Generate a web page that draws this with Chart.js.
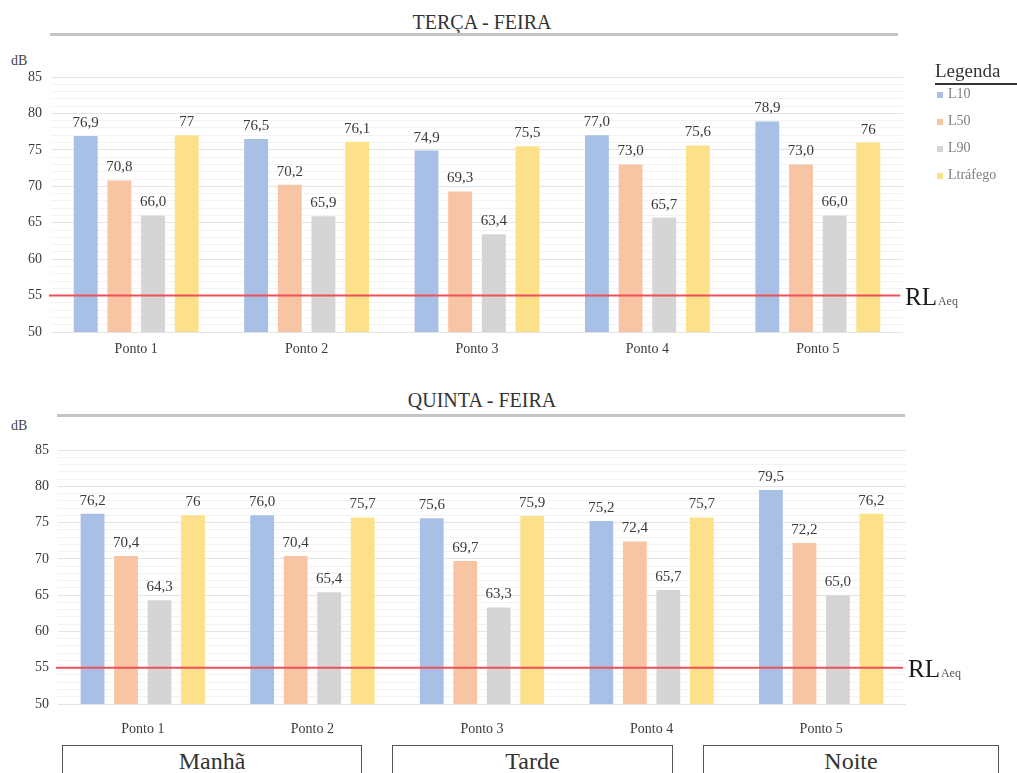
<!DOCTYPE html>
<html>
<head>
<meta charset="utf-8">
<script src="https://cdn.jsdelivr.net/npm/chart.js@4/dist/chart.umd.min.js"></script>
<style>
  body { margin: 0; background: #fff; font-family: "Liberation Serif", "DejaVu Serif", serif; color: #404040; }
  #page { position: relative; width: 1017px; height: 773px; overflow: hidden; }
  canvas { position: absolute; left: 0; }
  .txt { position: absolute; white-space: nowrap; }
  .title { font-size: 20px; color: #333; transform: translateX(-50%); }
  .rule { position: absolute; height: 3px; background: #c4c4c4; }
  .db { font-size: 14px; color: #444; }
  .box { position: absolute; top: 745px; height: 60px; border: 1px solid #555; box-sizing: border-box;
         text-align: center; font-size: 24px; color: #333; line-height: 30px; }
  .leg-item { position: absolute; left: 937px; font-size: 14px; color: #808080; }
  .leg-item i { display: inline-block; width: 6px; height: 6px; margin-right: 5px; vertical-align: middle; }
</style>
</head>
<body>
<div id="page">
  <div class="txt title" style="left:482px; top:11px;">TERÇA - FEIRA</div>
  <div class="rule" style="left:50px; width:848px; top:33px;"></div>
  <div class="txt db" style="left:11px; top:53px;">dB</div>

  <div class="txt title" style="left:482px; top:389px;">QUINTA - FEIRA</div>
  <div class="rule" style="left:57px; width:848px; top:414px;"></div>
  <div class="txt db" style="left:11px; top:418px;">dB</div>

  <canvas id="chartTerca" width="1017" height="370" style="top:0;"></canvas>
  <canvas id="chartQuinta" width="1017" height="365" style="top:380px;"></canvas>

  <div class="txt" style="left:935px; top:60px; font-size:19px; color:#333;">Legenda</div>
  <div class="rule" style="left:935px; width:82px; top:83px; height:2px; background:#333;"></div>
  <div id="legend"></div>

  <div class="box" style="left:62px; width:300px;">Manhã</div>
  <div class="box" style="left:392px; width:281px;">Tarde</div>
  <div class="box" style="left:703px; width:296px;">Noite</div>
</div>

<script>
const pontos = ['Ponto 1', 'Ponto 2', 'Ponto 3', 'Ponto 4', 'Ponto 5'];
const seriesNames = ['L10', 'L50', 'L90', 'Ltráfego'];
const seriesColors = ['#a9c0e6', '#f7c5a4', '#d5d5d5', '#fde08a'];

// Terça-feira
const tercaL10 = [76.9, 76.5, 74.9, 77.0, 78.9];
const tercaL50 = [70.8, 70.2, 69.3, 73.0, 73.0];
const tercaL90 = [66.0, 65.9, 63.4, 65.7, 66.0];
const tercaTrafego = [77, 76.1, 75.5, 75.6, 76];

// Quinta-feira
const quintaL10 = [76.2, 76.0, 75.6, 75.2, 79.5];
const quintaL50 = [70.4, 70.4, 69.7, 72.4, 72.2];
const quintaL90 = [64.3, 65.4, 63.3, 65.7, 65.0];
const quintaTrafego = [76, 75.7, 75.9, 75.7, 76.2];

const limiteRL = 55;
const yMin = 50;
const yMax = 85;

// legend (html)
const legend = document.getElementById('legend');
seriesNames.forEach((name, i) => {
  const d = document.createElement('div');
  d.className = 'leg-item';
  d.style.top = (86 + i * 27) + 'px';
  d.innerHTML = '<i style="background:' + seriesColors[i] + '"></i>' + name;
  legend.appendChild(d);
});

function fmt(v, idx) {
  // Ltráfego shown as typed, the others with one decimal
  const s = idx === 3 ? String(v) : v.toFixed(1);
  return s.replace('.', ',');
}

const labelsAndLine = {
  id: 'labelsAndLine',
  afterDatasetsDraw(chart) {
    const ctx = chart.ctx;
    ctx.save();
    ctx.font = '15px "Liberation Serif", serif';
    ctx.fillStyle = '#3a3a3a';
    ctx.textAlign = 'center';
    ctx.textBaseline = 'middle';
    chart.data.datasets.forEach((ds, i) => {
      chart.getDatasetMeta(i).data.forEach((bar, j) => {
        ctx.fillText(fmt(ds.data[j], i), bar.x, bar.y - 13);
      });
    });

    const y = chart.scales.y.getPixelForValue(limiteRL);
    const area = chart.chartArea;
    ctx.strokeStyle = '#ee4f58';
    ctx.lineWidth = 2;
    ctx.beginPath();
    ctx.moveTo(area.left - 2, y);
    ctx.lineTo(area.right - 3, y);
    ctx.stroke();

    ctx.textAlign = 'left';
    ctx.textBaseline = 'alphabetic';
    ctx.fillStyle = '#1a1a1a';
    ctx.font = '25px "Liberation Serif", serif';
    ctx.fillText('RL', area.right + 2, y + 9);
    const w = ctx.measureText('RL').width;
    ctx.fillStyle = '#555';
    ctx.font = '12px "Liberation Serif", serif';
    ctx.fillText('Aeq', area.right + 3 + w, y + 9);
    ctx.restore();
  },
};

function makeChart(id, values, geo) {
  const ctx = document.getElementById(id).getContext('2d');
  return new Chart(ctx, {
    type: 'bar',
    data: {
      labels: pontos,
      datasets: values.map((vals, i) => ({
        label: seriesNames[i],
        data: vals,
        backgroundColor: seriesColors[i],
        borderWidth: 0,
      })),
    },
    options: {
      responsive: false,
      animation: false,
      events: [],
      categoryPercentage: 0.79,
      barPercentage: 0.71,
      layout: {
        padding: { left: 0, right: 1017 - geo.right, top: geo.top, bottom: 0 },
      },
      plugins: {
        legend: { display: false },
        tooltip: { enabled: false },
      },
      scales: {
        x: {
          grid: { display: false, drawTicks: false },
          border: { display: false },
          afterFit(scale) { scale.height = geo.h - geo.bottom; },
          ticks: {
            padding: geo.xPad,
            color: '#3a3a3a',
            font: { family: '"Liberation Serif", serif', size: 14 },
          },
        },
        y: {
          min: yMin,
          max: yMax,
          afterFit(scale) { scale.width = geo.left; },
          grid: {
            drawTicks: false,
            color: (c) => (c.tick && c.tick.value % 5 === 0 ? '#e4e4e4' : '#f3f3f3'),
          },
          border: { display: false },
          ticks: {
            stepSize: 1,
            autoSkip: false,
            padding: 9,
            color: '#3a3a3a',
            font: { family: '"Liberation Serif", serif', size: 14 },
            callback: (v) => (v % 5 === 0 ? v : ''),
          },
        },
      },
    },
    plugins: [labelsAndLine],
  });
}

makeChart('chartTerca', [tercaL10, tercaL50, tercaL90, tercaTrafego],
  { left: 51, right: 903, top: 77, bottom: 332, h: 370, xPad: 9 });
makeChart('chartQuinta', [quintaL10, quintaL50, quintaL90, quintaTrafego],
  { left: 58, right: 906, top: 70, bottom: 324, h: 365, xPad: 17 });
</script>
</body>
</html>
